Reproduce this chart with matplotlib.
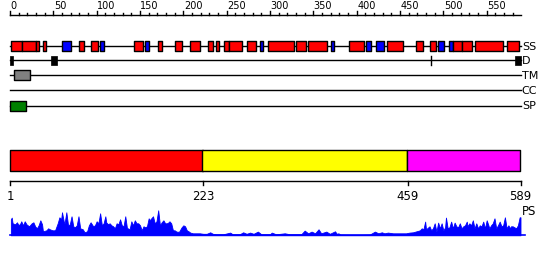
import matplotlib
matplotlib.use("Agg")
import matplotlib.pyplot as plt

seq_len = 589

# secondary structure: H = helix (red), E = strand (blue)
ss_start = [1, 14, 30, 38, 60, 80, 93, 104, 143, 156, 171, 190, 208, 229, 238, 247, 253, 274,
            288, 298, 330, 344, 370, 391, 411, 422, 435, 468, 485, 494, 506, 511, 521, 536, 573]
ss_end = [14, 30, 34, 42, 70, 85, 102, 109, 153, 160, 175, 198, 219, 234, 241, 253, 268, 284,
          292, 328, 341, 366, 374, 408, 416, 431, 454, 477, 492, 501, 511, 521, 533, 569, 587]
ss_type = ["H", "H", "H", "H", "E", "H", "H", "E", "H", "E", "H", "H", "H", "H", "H", "H", "H", "H",
           "E", "H", "H", "H", "E", "H", "E", "E", "H", "H", "H", "E", "E", "H", "H", "H", "H"]

# disorder, transmembrane, signal peptide
dis_start = [0, 47, 583]
dis_end = [4, 54, 589]
dis_mark = [486]
tm_start, tm_end = [5], [23]
sp_start, sp_end = [0], [18]

# domains
dom_start = [1, 223, 459]
dom_end = [223, 459, 589]
dom_colors = ["#ff0000", "#ffff00", "#ff00ff"]
bottom_ticks = [1, 223, 459, 589]

# PS profile (residue, score)
ps_pos = [1, 2, 3, 6, 8, 10, 12, 13, 15, 17, 19, 22, 25, 27, 29, 31, 33, 35, 37, 38, 42, 44, 46,
          49, 52, 55, 57, 59, 60, 62, 63, 65, 67, 69, 71, 73, 75, 77, 79, 81, 84, 86, 89, 91, 93,
          96, 98, 100, 102, 104, 106, 108, 110, 111, 113, 115, 117, 119, 121, 123, 125, 127, 129,
          131, 133, 135, 136, 138, 140, 142, 144, 146, 148, 150, 152, 154, 156, 158, 160, 161,
          163, 165, 167, 169, 171, 173, 175, 177, 179, 181, 183, 184, 186, 188, 190, 192, 195,
          198, 200, 202, 204, 206, 208, 211, 215, 219, 223, 227, 231, 234, 238, 246, 254, 257,
          265, 269, 273, 277, 281, 286, 290, 296,
          300, 302, 307, 317, 323, 331, 336, 340, 344, 348, 352, 356, 359, 365, 369, 375, 377,
          379, 381, 392, 407, 415, 421, 425, 429, 432, 436, 442, 450, 457, 461, 465, 469, 473,
          475, 477, 479, 480, 484, 486, 488, 490, 492, 494, 496, 498, 500, 502, 503, 505, 507,
          509, 511, 513, 515, 517, 519, 521, 523, 525, 527, 528, 530, 532, 534, 536, 538, 540,
          542, 544, 546, 548, 550, 552, 553, 555, 557, 559, 561, 563, 565, 567, 569, 571, 573,
          575, 577, 578, 580, 582, 584, 586, 588, 589]
ps_val = [16, 17.7, 12, 11, 13, 10, 12, 14, 10, 14, 11, 9, 12, 13, 9, 7, 10, 15, 11, 4, 5, 7, 6,
          5, 5, 12, 18, 16, 23, 14, 12, 23, 10, 11, 19, 9, 8, 10, 19, 7, 6, 3, 4, 10, 13,
          9, 10, 14, 12, 22, 10, 12, 19, 13, 11, 12, 10, 9, 7, 12, 11, 16, 10,
          9, 19, 7, 7, 6, 14, 10, 15, 12, 12, 10, 5, 9, 8, 9, 17, 15,
          17, 19, 12, 14, 25, 10, 13, 15, 12, 12, 13, 14, 12, 5, 5, 3.7, 3.5,
          8, 10, 9, 5, 4, 2.7, 2, 2, 2, 1.5, 1.5, 3, 1.5, 1, 1, 2.7, 1,
          1, 3, 1.5, 2.7, 1.5, 3.7, 1, 1,
          1, 2.7, 1, 2, 1, 1, 1, 4.7, 2, 3.7, 2, 6, 2, 3.7, 1.5, 4, 1.5,
          2, 0.7, 0.5, 0.5, 0.7, 3.7, 2, 3, 2, 2.7, 2, 2, 2, 2.7, 3, 4, 5,
          7, 6, 13.7, 6, 9, 5, 7, 12, 3.7, 12.7, 7, 12, 5, 8, 17.7, 7, 8,
          13.7, 7, 12.7, 9, 8, 12, 7, 9, 10, 13.7, 9, 12, 10, 15, 7, 12, 7,
          10, 9, 13.7, 7, 15, 10, 7, 10, 12, 17, 7, 10, 13.7, 9, 10, 18, 7,
          10, 7, 9, 9, 8, 7, 10, 18, 18]

px = 510.5 / seq_len  # pixels per residue

fig = plt.figure(figsize=(5.5, 2.6), dpi=100)
ax = fig.add_axes([0, 0, 1, 1])
ax.set_xlim(-10 / px, 540 / px)
ax.set_ylim(260, 0)
ax.axis("off")

lw = 1.0

# top ruler
ax.plot([0, seq_len], [15, 15], color="black", lw=lw)
for t in range(0, seq_len, 10):
    if t % 50 == 0:
        ax.plot([t, t], [10.5, 15], color="black", lw=lw)
        ax.text(t + 0.5, 8.8, str(t), fontsize=7, ha="left", va="baseline")
    else:
        ax.plot([t, t], [12.5, 15], color="black", lw=lw)

# feature rows
rows = {"SS": 45.7, "D": 60.3, "TM": 75, "CC": 90, "SP": 105.5}
for name, y in rows.items():
    ax.plot([0, seq_len], [y, y], color="black", lw=lw, zorder=1)
    ax.text(seq_len + 1.5, y + 0.8, name, fontsize=8, ha="left", va="center")

ss_col = {"H": "#ff0000", "E": "#0000ff"}
for s, e, t in zip(ss_start, ss_end, ss_type):
    ax.broken_barh([(s, e - s)], (40.7, 10), facecolors=ss_col[t], edgecolors="black",
                   linewidth=lw, zorder=2)

ax.broken_barh([(s, e - s) for s, e in zip(dis_start, dis_end)], (55.7, 9.5),
               facecolors="black", edgecolors="black", linewidth=0.5, zorder=2)
for m in dis_mark:
    ax.plot([m, m], [56, 65], color="black", lw=lw, zorder=2)

ax.broken_barh([(s, e - s) for s, e in zip(tm_start, tm_end)], (70, 10),
               facecolors="#808080", edgecolors="black", linewidth=lw, zorder=2)
ax.broken_barh([(s, e - s) for s, e in zip(sp_start, sp_end)], (100.7, 10),
               facecolors="#008000", edgecolors="black", linewidth=lw, zorder=2)

# domains
for s, e, c in zip(dom_start, dom_end, dom_colors):
    ax.broken_barh([(s - 1, e - s + 1 if s == 1 else e - s)], (150.3, 20.5), facecolors=c,
                   edgecolors="black", linewidth=lw)

# bottom ruler
ax.plot([0, seq_len], [180.5, 180.5], color="black", lw=lw)
for t in bottom_ticks:
    tx = t - 1 if t == 1 else t
    ax.plot([tx, tx], [180.5, 185], color="black", lw=lw)
    ax.text(tx + (1 if t == 1 else 0), 200.5, str(t), fontsize=8.5, ha="center", va="baseline")

# PS profile
base = 235.3
ax.fill_between(ps_pos, [base - v for v in ps_val], base, color="#0000ff", lw=0.6)
ax.plot([0, seq_len + 5], [base, base], color="#0000ff", lw=1.2)
ax.text(seq_len + 1.5, 215, "PS", fontsize=8.5, ha="left", va="baseline")

fig.savefig("out.png", dpi=100)
